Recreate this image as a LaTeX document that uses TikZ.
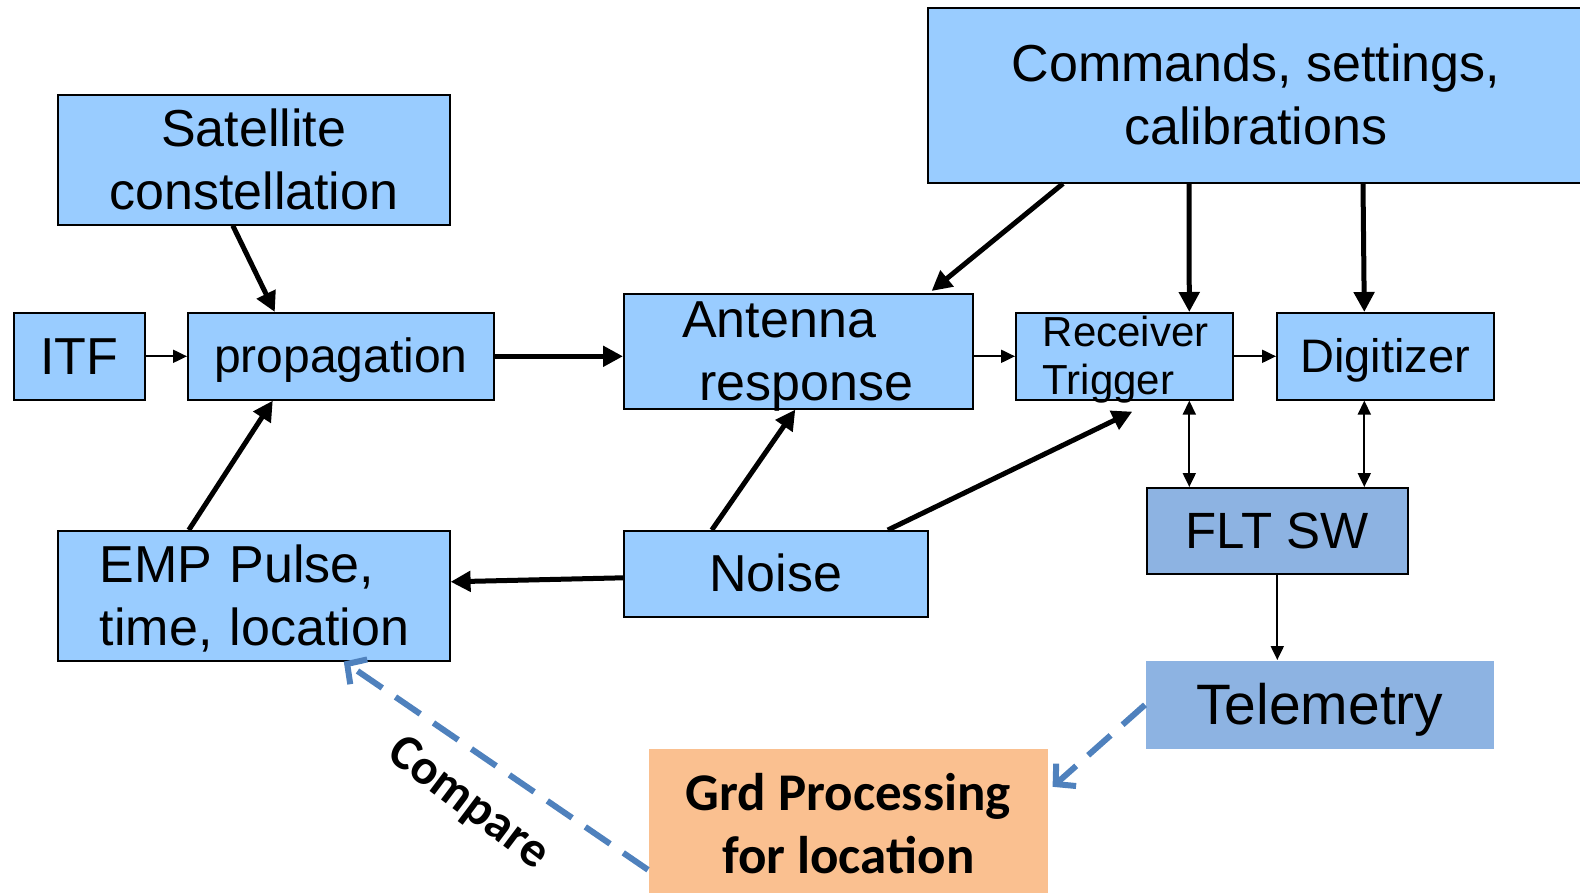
\documentclass[tikz,border=0pt]{standalone}
\usepackage{fontspec}
\setmainfont{Liberation Sans}
\newfontfamily\calibri{Carlito}
\usetikzlibrary{arrows.meta}

\definecolor{boxblue}{HTML}{99CCFF}
\definecolor{fltblue}{HTML}{8DB3E2}
\definecolor{grdorange}{HTML}{FAC090}
\definecolor{dashblue}{HTML}{4F81BD}

% one line of box text, centred the way a slide does it
\newcommand{\txtline}[1]{\smash{#1}\rule{0pt}{0.69em}}

\begin{document}
\begin{tikzpicture}[x=1pt,y=-1pt,
    blk/.style={draw=black,line width=1.6pt,fill=boxblue,inner sep=0pt,anchor=north west,
        align=center,font=\fontsize{52}{63}\selectfont},
    fatarrow/.style={line width=5pt,-{Triangle[length=20pt,width=20pt]}},
    thinarrow/.style={line width=2pt,-{Triangle[length=14pt,width=13pt]}},
    duoarrow/.style={line width=2pt,{Triangle[length=14pt,width=13pt]}-{Triangle[length=14pt,width=13pt]}},
    dasharrow/.style={dashblue,line width=6pt,dash pattern=on 30pt off 16pt,
        -{Straight Barb[length=14pt,width=30pt]}}]
\useasboundingbox (0,0) rectangle (1580,892);

% boxes
\node[blk,minimum width=392pt,minimum height=130pt] (sat) at (57,94)
    {\txtline{Satellite}\\\txtline{constellation}};
\node[blk,minimum width=131pt,minimum height=87pt] (itf) at (13,312) {\txtline{ITF}};
\node[blk,minimum width=306pt,minimum height=87pt,font=\fontsize{48}{58}\selectfont] (prop) at (187,312)
    {\txtline{propagation}};
\node[blk,minimum width=349pt,minimum height=115pt,text width=232pt,align=left] (ant) at (623,293)
    {\txtline{Antenna}\\\txtline{\hspace*{17pt}response}};
\node[blk,minimum width=217pt,minimum height=87pt,text width=163pt,align=left,
    font=\fontsize{42}{48}\selectfont] (rcv) at (1015,312) {\txtline{Receiver}\\\txtline{Trigger}};
\node[blk,minimum width=217pt,minimum height=87pt,font=\fontsize{47}{56}\selectfont] (dig) at (1276,312)
    {\txtline{Digitizer}};
\node[blk,minimum width=656pt,minimum height=175pt] (cmd) at (927,7)
    {\txtline{Commands, settings,}\\\txtline{calibrations}};
\node[blk,minimum width=392pt,minimum height=130pt,text width=308pt,align=left] (emp) at (57,530)
    {\txtline{EMP Pulse,}\\\txtline{time, location}};
\node[blk,minimum width=304pt,minimum height=86pt] (noise) at (623,530) {\txtline{Noise}};
\node[blk,fill=fltblue,minimum width=261pt,minimum height=86pt,font=\fontsize{51}{61}\selectfont] (flt) at (1146,487)
    {\txtline{FLT SW}};
\node[blk,draw=none,fill=fltblue,minimum width=348pt,minimum height=88pt,font=\fontsize{57}{68}\selectfont] (tel) at (1145,660)
    {\txtline{Telemetry}};
\node[blk,draw=none,fill=grdorange,minimum width=399pt,minimum height=150pt,
    font=\calibri\bfseries\fontsize{53}{63}\selectfont] (grd) at (648,748)
    {\txtline{Grd Processing}\\\txtline{for location}};

% signal path
\draw[fatarrow] ([xshift=-21pt]sat.south) -- ([xshift=-66pt]prop.north);
\draw[fatarrow] ([xshift=-65pt]emp.north) -- ([xshift=-68pt]prop.south);
\draw[thinarrow] (itf) -- (prop);
\draw[fatarrow] (prop.east) -- (prop.east -| ant.west);
\draw[thinarrow] (ant.east |- rcv.west) -- (rcv.west);
\draw[thinarrow] (rcv) -- (dig);
\draw[fatarrow] ([xshift=-64pt]noise.north) -- ([xshift=-3pt]ant.south);
\draw[fatarrow] ([yshift=-4pt]noise.west) -- ([yshift=14pt]emp.east);
\draw[fatarrow] ([xshift=112pt]noise.north) -- ([shift={(8pt,-11pt)}]rcv.south);

% commands
\draw[fatarrow] ([xshift=136pt]cmd.south west) -- ([shift={(-42pt,2pt)}]ant.north east);
\draw[fatarrow] ([xshift=262pt]cmd.south west) -- ([xshift=65pt]rcv.north);
\draw[fatarrow] ([xshift=436pt]cmd.south west) -- ([xshift=-21pt]dig.north);

% flight software and ground
\draw[duoarrow] ([xshift=65pt]rcv.south) -- ([xshift=-88pt]flt.north);
\draw[duoarrow] ([xshift=-21pt]dig.south) -- ([xshift=87pt]flt.north);
\draw[thinarrow] (flt.south) -- (flt.south |- tel.north);
\draw[dasharrow] (tel.west) -- ([shift={(4pt,37pt)}]grd.east);
\draw[dasharrow] ([yshift=-46pt]grd.west) -- node[pos=0.5,xshift=-28pt,yshift=-38pt,rotate=-37,inner sep=0pt,black,
    font=\calibri\bfseries\fontsize{50}{60}\selectfont] (cmp) {Compare} ([xshift=90pt]emp.south);
\end{tikzpicture}
\end{document}
